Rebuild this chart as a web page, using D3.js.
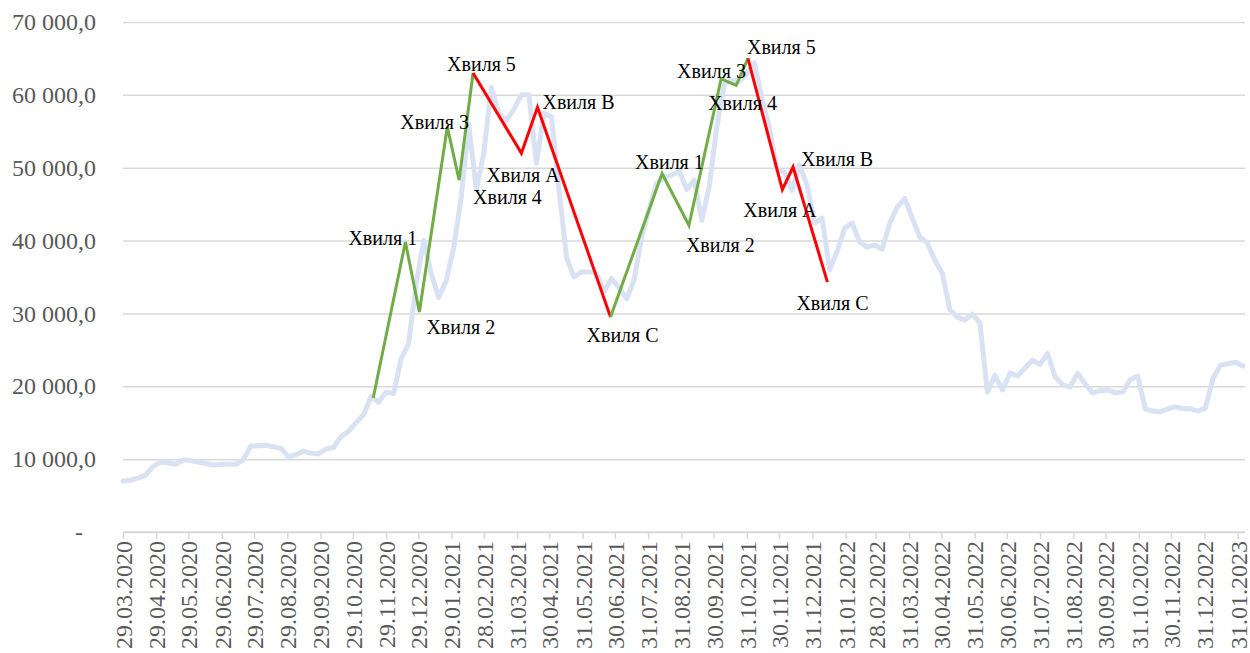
<!DOCTYPE html>
<html>
<head>
<meta charset="utf-8">
<script src="https://cdn.jsdelivr.net/npm/d3@7"></script>
<style>
  body { margin: 0; background: #ffffff; }
  svg { display: block; }
  svg text { font-family: "Liberation Serif", "Times New Roman", Times, "DejaVu Serif", serif; }
</style>
</head>
<body>
<svg id="chart" width="1250" height="653"></svg>
<script>
// Weekly BTC/USD price, one value per week starting 29.03.2020
const startDate = "29.03.2020";
const weeklyPrices = [
  7000, 7100, 7400, 7800, 9000, 9600, 9500, 9300, 9900, 9800,
  9600, 9400, 9200, 9250, 9300, 9300, 9900, 11800, 11850, 11900,
  11700, 11500, 10300, 10600, 11100, 10800, 10700, 11400, 11600, 13100,
  13800, 15000, 16100, 18600, 17800, 19200, 19000, 23800, 25900, 34000,
  40000, 35500, 32200, 34500, 39000, 46000, 56000, 47000, 52000, 61000,
  57500, 56500, 58000, 60000, 60000, 50600, 57500, 57000, 47000, 37700,
  35000, 35700, 35700, 35500, 33000, 34800, 33500, 32000, 34600, 40500,
  44300, 47900, 48700, 49000, 49500, 47000, 48300, 42800, 47500, 55600,
  61500, 62000, 61800, 63000, 64400, 59500, 55500, 49700, 49400, 46900,
  50400, 47600, 42400, 43100, 36000, 38500, 41700, 42400, 39800, 39100,
  39400, 38800, 42400, 44600, 45800, 43100, 40500, 39700, 37300, 35500,
  30500, 29500, 29100, 29900, 28700, 19200, 21500, 19500, 21800, 21400,
  22500, 23600, 23000, 24500, 21300, 20200, 19900, 21800, 20300, 19100,
  19400, 19500, 19100, 19200, 20900, 21400, 16900, 16600, 16500, 16900,
  17200, 16900, 16900, 16600, 17000, 21100, 22900, 23100, 23300, 22800
];

// Date axis tick labels
const tickLabels = [
  "29.03.2020", "29.04.2020", "29.05.2020", "29.06.2020", "29.07.2020",
  "29.08.2020", "29.09.2020", "29.10.2020", "29.11.2020", "29.12.2020",
  "29.01.2021", "28.02.2021", "31.03.2021", "30.04.2021", "31.05.2021",
  "30.06.2021", "31.07.2021", "31.08.2021", "30.09.2021", "31.10.2021",
  "30.11.2021", "31.12.2021", "31.01.2022", "28.02.2022", "31.03.2022",
  "30.04.2022", "31.05.2022", "30.06.2022", "31.07.2022", "31.08.2022",
  "30.09.2022", "31.10.2022", "30.11.2022", "31.12.2022", "31.01.2023"
];
const yTicks = [0, 10000, 20000, 30000, 40000, 50000, 60000, 70000];

// Elliott waves: first impulse (1-5) and its correction (A-B-C)
const impulse1Dates  = ["17.11.2020", "17.12.2020", "30.12.2020", "25.01.2021", "05.02.2021", "18.02.2021"];
const impulse1Values = [18400, 39800, 30200, 55600, 48300, 63000];
const impulse1Labels = ["", "Хвиля 1", "Хвиля 2", "Хвиля 3", "Хвиля 4", "Хвиля 5"];

const correction1Dates  = ["18.02.2021", "04.04.2021", "19.04.2021", "26.06.2021"];
const correction1Values = [63000, 52000, 58300, 29500];
const correction1Labels = ["", "Хвиля A", "Хвиля B", "Хвиля C"];

// Second impulse and correction
const impulse2Dates  = ["26.06.2021", "13.08.2021", "07.09.2021", "07.10.2021", "21.10.2021", "01.11.2021"];
const impulse2Values = [29500, 49200, 42100, 62200, 61300, 65000];
const impulse2Labels = ["", "Хвиля 1", "Хвиля 2", "Хвиля 3", "Хвиля 4", "Хвиля 5"];

const correction2Dates  = ["01.11.2021", "03.12.2021", "13.12.2021", "14.01.2022"];
const correction2Values = [65000, 47000, 50100, 34300];
const correction2Labels = ["", "Хвиля A", "Хвиля B", "Хвиля C"];

// ---------------------------------------------------------------
const parse = d3.utcParse("%d.%m.%Y");
const fmtDate = d3.utcFormat("%d.%m.%Y");
const t0 = parse(startDate);
const weeklyDates = weeklyPrices.map((_, i) => d3.utcDay.offset(t0, 7 * i));

const plot = { left: 123, right: 1243, gridRight: 1245, top: 22, bottom: 532 };

const x = d3.scaleUtc()
  .domain([weeklyDates[0], weeklyDates[weeklyDates.length - 1]])
  .range([plot.left, plot.right]);
const y = d3.scaleLinear().domain([0, 70000]).range([plot.bottom, plot.top]);

const uaLocale = d3.formatLocale({ decimal: ",", thousands: " ", grouping: [3], currency: ["", ""] });
const fmtValue = uaLocale.format(",.1f");

const svg = d3.select("#chart");

// Y axis with horizontal gridlines
const yAxis = d3.axisLeft(y)
  .tickValues(yTicks)
  .tickSize(-(plot.gridRight - plot.left))
  .tickPadding(27)
  .tickFormat(d => d === 0 ? "-" : fmtValue(d));

const gy = svg.append("g")
  .attr("transform", `translate(${plot.left},0)`)
  .call(yAxis);
gy.select(".domain").remove();
gy.attr("font-family", null);
gy.selectAll(".tick line").attr("stroke", "#d9d9d9").attr("stroke-width", 1.5);
gy.selectAll(".tick text")
  .attr("font-size", 24)
  .attr("fill", "#595959")
  .attr("dx", d => d === 0 ? -13 : 0);

// X axis (dates)
const xAxis = d3.axisBottom(x)
  .tickValues(tickLabels.map(parse))
  .tickSizeInner(7)
  .tickSizeOuter(0)
  .tickFormat(fmtDate);

const gx = svg.append("g")
  .attr("transform", `translate(0,${plot.bottom})`)
  .call(xAxis);
gx.attr("font-family", null);
gx.select(".domain")
  .attr("d", `M${plot.left},0H${plot.gridRight}`)
  .attr("stroke", "#d9d9d9").attr("stroke-width", 1.5);
gx.selectAll(".tick line").attr("stroke", "#d9d9d9").attr("stroke-width", 1.5);
gx.selectAll(".tick text")
  .attr("font-size", 24)
  .attr("fill", "#595959")
  .attr("text-anchor", "end")
  .attr("x", 0)
  .attr("y", 0)
  .attr("dy", "0.35em")
  .attr("transform", "translate(0,9) rotate(-90)");

// Price line
const priceLine = d3.line()
  .x((d, i) => x(weeklyDates[i]))
  .y(d => y(d));

svg.append("path")
  .datum(weeklyPrices)
  .attr("fill", "none")
  .attr("stroke", "#d9e2f3")
  .attr("stroke-width", 5)
  .attr("stroke-linejoin", "round")
  .attr("stroke-linecap", "round")
  .attr("d", priceLine);

// Wave overlays
const waves = [
  { dates: impulse1Dates, values: impulse1Values, labels: impulse1Labels, color: "#70ad47",
    offsets: [null, [-57, 3], [7, 22], [-47, 2], [14, 24], [-26, -2]] },
  { dates: correction1Dates, values: correction1Values, labels: correction1Labels, color: "#ff0000",
    offsets: [null, [-35, 29], [5, 2], [-24, 25]] },
  { dates: impulse2Dates, values: impulse2Values, labels: impulse2Labels, color: "#70ad47",
    offsets: [null, [-27, -5], [-3, 27], [-44, -1], [-28, 25], [-1, -4]] },
  { dates: correction2Dates, values: correction2Values, labels: correction2Labels, color: "#ff0000",
    offsets: [null, [-39, 27], [8, -1], [-31, 28]] }
];

const waveLine = d3.line()
  .x(d => x(d.date))
  .y(d => y(d.value));

waves.forEach(w => {
  w.points = w.dates.map((s, i) => ({ date: parse(s), value: w.values[i], label: w.labels[i], off: w.offsets[i] }));
  svg.append("path")
    .datum(w.points)
    .attr("fill", "none")
    .attr("stroke", w.color)
    .attr("stroke-width", 3)
    .attr("stroke-linejoin", "miter")
    .attr("d", waveLine);
});

const labelLayer = svg.append("g");
waves.forEach(w => {
  labelLayer.selectAll(null)
    .data(w.points.filter(p => p.label))
    .join("text")
    .attr("x", p => x(p.date) + p.off[0])
    .attr("y", p => y(p.value) + p.off[1])
    .attr("font-size", 20)
    .attr("fill", "#000000")
    .text(p => p.label);
});
</script>
</body>
</html>
